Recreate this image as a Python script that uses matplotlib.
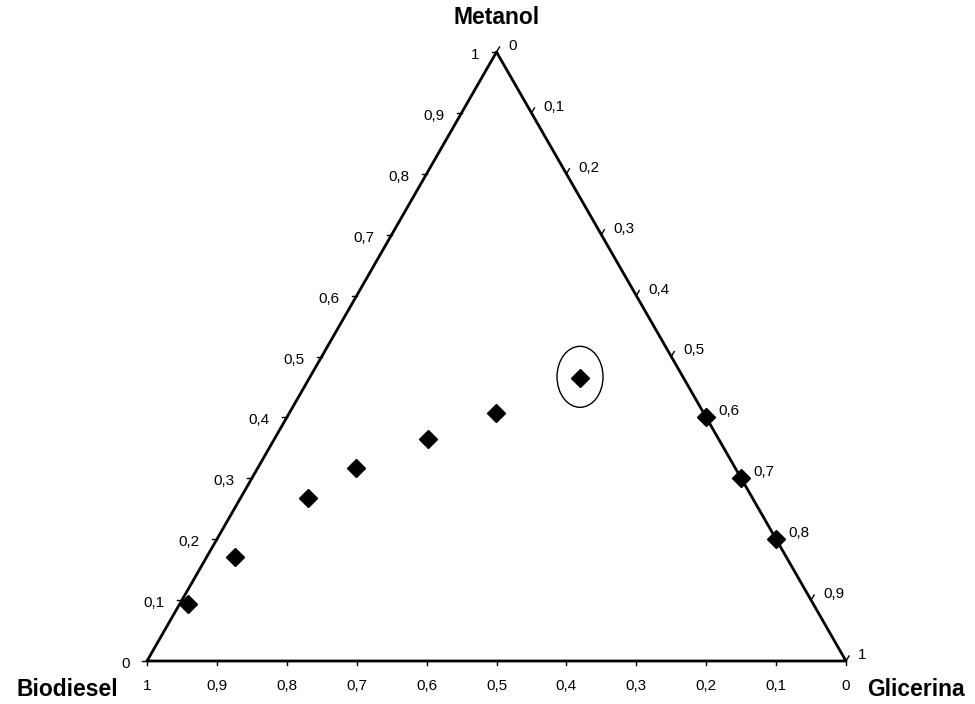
import numpy as np
import matplotlib
matplotlib.use("Agg")
import matplotlib.pyplot as plt
from matplotlib.patches import Ellipse

plt.rcParams['font.family'] = ['Liberation Sans', 'DejaVu Sans']

# composicoes (fracoes) de cada ponto
metanol = [0.094, 0.170, 0.268, 0.317, 0.365, 0.407, 0.465, 0.40, 0.30, 0.20]
glicerina = [0.011, 0.041, 0.096, 0.140, 0.220, 0.296, 0.387, 0.60, 0.70, 0.80]
biodiesel = [1 - m - g for m, g in zip(metanol, glicerina)]

ticks = [round(0.1 * i, 1) for i in range(11)]
destaque = 6  # ponto circulado

H = np.sqrt(3) / 2


def xy(g, m):
    # biodiesel no vertice esquerdo, glicerina no direito, metanol no topo
    return g + m / 2, m * H


def rotulo(v):
    return ("%g" % v).replace(".", ",")


fig = plt.figure(figsize=(9.75, 7.04), dpi=100)
ax = fig.add_axes([0, 0, 1, 1])
# escala em pixels: 699 px por unidade na horizontal, 609 px de altura
px = 1 / 699
py = H / 609
ax.set_xlim(-147 * px, (975 - 147) * px)
ax.set_ylim(-(704 - 661) * py, 661 * py)
ax.axis('off')

# lados do triangulo
tri = np.array([xy(0, 0), xy(1, 0), xy(0, 1), xy(0, 0)])
ax.plot(tri[:, 0], tri[:, 1], color='black', lw=2.0, solid_capstyle='round')

fs = 11
for t in ticks:
    # lado esquerdo: metanol
    x, y = xy(0, t)
    ax.plot([x, x - 5 * px], [y, y], color='black', lw=1)
    ax.text(x - 17 * px, y - 3 * py, rotulo(t), ha='right', va='center', fontsize=fs)
    # lado direito: glicerina
    x, y = xy(t, 1 - t)
    ax.plot([x, x + 3 * px], [y, y + 5 * py], color='black', lw=1)
    ax.text(x + 12 * px, y + 6 * py, rotulo(t), ha='left', va='center', fontsize=fs)
    # base: biodiesel
    x, y = xy(1 - t, 0)
    ax.plot([x, x], [y, y - 4 * py], color='black', lw=1)
    ax.text(x, y - 25 * py, rotulo(t), ha='center', va='center', fontsize=fs)

x, y = xy(0, 1)
ax.text(x, y + 34 * py, 'Metanol', ha='center', va='center', fontsize=16.5, fontweight='bold')
x, y = xy(0, 0)
ax.text(x - 80 * px, y - 29 * py, 'Biodiesel', ha='center', va='center', fontsize=16.5, fontweight='bold')
x, y = xy(1, 0)
ax.text(x + 70 * px, y - 29 * py, 'Glicerina', ha='center', va='center', fontsize=16.5, fontweight='bold')

pts = np.array([xy(g, m) for g, m in zip(glicerina, metanol)])
ax.plot(pts[:, 0], pts[:, 1], 'D', color='black', markersize=9, linestyle='none')

cx, cy = pts[destaque]
ax.add_patch(Ellipse((cx, cy + 1 * py), 46 * px, 61 * py, fill=False, edgecolor='black', lw=1))

fig.savefig('out.png', dpi=100)
